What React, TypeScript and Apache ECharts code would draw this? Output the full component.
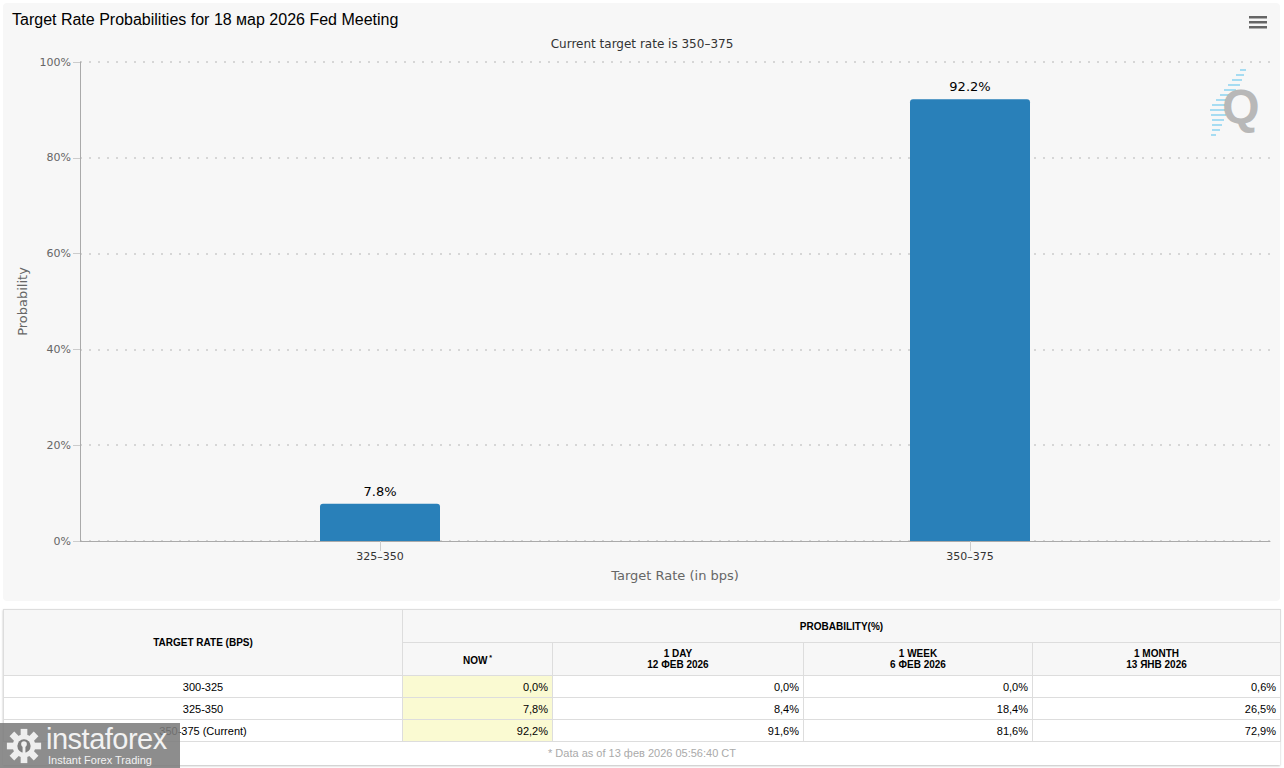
import React, { useEffect, useRef } from 'react';
import * as echarts from 'echarts';

const chartTitle = 'Target Rate Probabilities for 18 мар 2026 Fed Meeting';
const chartSubtitle = 'Current target rate is 350–375';
const categories = ['325–350', '350–375'];
const probabilities = [7.8, 92.2];
const yMin = 0;
const yMax = 100;
const yInterval = 20;

const tableRates = ['300-325', '325-350', '350-375 (Current)'];
const nowValues = ['0,0%', '7,8%', '92,2%'];
const dayValues = ['0,0%', '8,4%', '91,6%'];
const weekValues = ['0,0%', '18,4%', '81,6%'];
const monthValues = ['0,6%', '26,5%', '72,9%'];
const columnHeaders = [
  ['1 DAY', '12 ФЕВ 2026'],
  ['1 WEEK', '6 ФЕВ 2026'],
  ['1 MONTH', '13 ЯНВ 2026'],
];
const footnote = '* Data as of 13 фев 2026 05:56:40 CT';

const streaks: [number, number, number][] = [
  [70, 1240, 1246], [75, 1236, 1244], [80, 1232, 1242], [85, 1228, 1240],
  [90, 1224, 1236], [95, 1220, 1232], [100, 1216, 1230], [105, 1212, 1228],
  [110, 1210, 1226], [115, 1211, 1226], [120, 1212, 1224], [125, 1212, 1222],
  [130, 1212, 1220], [135, 1211, 1216],
];

const font = '"DejaVu Sans", Verdana';

function Chart() {
  const ref = useRef<HTMLDivElement>(null);
  useEffect(() => {
    if (!ref.current) return;
    const chart = echarts.init(ref.current, undefined, { renderer: 'svg' });
    const graphics: any[] = streaks.map(([y, x1, x2]) => ({
      type: 'line',
      shape: { x1, y1: y, x2, y2: y },
      style: { stroke: '#a6dcf2', lineWidth: 2 },
      z: 1,
    }));
    graphics.push({
      type: 'text',
      x: 1241,
      y: 106,
      style: {
        text: 'Q',
        font: 'bold 48px "Liberation Sans", Arial',
        fill: '#b8b8b8',
        align: 'center',
        verticalAlign: 'middle',
      },
      z: 2,
    });
    [17, 22, 27].forEach((y) => {
      graphics.push({
        type: 'rect',
        shape: { x: 1249, y: y - 1, width: 18, height: 2.5 },
        style: { fill: '#666666' },
      });
    });
    chart.setOption({
      animation: false,
      backgroundColor: 'transparent',
      title: [
        {
          text: chartTitle,
          left: 7,
          top: 6,
          textStyle: { fontFamily: '"Liberation Sans", Arial', fontSize: 16, fontWeight: 'normal', color: '#000' },
        },
        {
          text: chartSubtitle,
          left: 'center',
          top: 33,
          textStyle: { fontFamily: font, fontSize: 12, fontWeight: 'normal', color: '#333' },
        },
      ],
      grid: [
        { left: 80, right: 14, top: 62, bottom: 64 },
        { left: 85, right: 19, top: 62, bottom: 64 },
      ],
      xAxis: [
        {
          type: 'category',
          gridIndex: 0,
          data: categories,
          axisLine: { lineStyle: { color: '#aaaaaa' } },
          axisTick: { show: false },
          axisLabel: { show: false },
          name: 'Target Rate (in bps)',
          nameLocation: 'middle',
          nameGap: 28,
          nameTextStyle: { color: '#666', fontSize: 13, fontFamily: font },
        },
        {
          type: 'category',
          gridIndex: 1,
          data: categories,
          axisLine: { show: false },
          axisTick: { show: true, alignWithLabel: true, length: 10, lineStyle: { color: '#cccccc' } },
          axisLabel: { color: '#333', fontSize: 11, fontFamily: font, margin: 10 },
        },
      ],
      yAxis: [
        {
          type: 'value',
          gridIndex: 0,
          min: yMin,
          max: yMax,
          interval: yInterval,
          axisLine: { show: true, lineStyle: { color: '#aaaaaa' } },
          axisTick: { show: true, length: 7, lineStyle: { color: '#cccccc' } },
          axisLabel: { formatter: '{value}%', color: '#666', fontSize: 11, fontFamily: font, margin: 9 },
          splitLine: { lineStyle: { type: [2, 7], color: '#cccccc', width: 1.5 } },
          name: 'Probability',
          nameLocation: 'middle',
          nameGap: 49,
          nameTextStyle: { color: '#666', fontSize: 13, fontFamily: font },
        },
        {
          type: 'value',
          gridIndex: 1,
          min: yMin,
          max: yMax,
          interval: yInterval,
          show: false,
          splitLine: { show: false },
        },
      ],
      series: [
        {
          type: 'bar',
          xAxisIndex: 1,
          yAxisIndex: 1,
          data: probabilities,
          barWidth: 120,
          itemStyle: { color: '#2980b9', borderRadius: [3, 3, 0, 0] },
          label: {
            show: true,
            position: 'top',
            distance: 6,
            formatter: '{c}%',
            color: '#000',
            fontSize: 13,
            fontFamily: font,
          },
        },
      ],
      graphic: graphics,
    });
    return () => chart.dispose();
  }, []);
  return <div ref={ref} style={{ position: 'absolute', left: 0, top: 0, width: 1284, height: 605 }} />;
}

const border = '1px solid #dddddd';
const cellFont = '"Liberation Sans", Arial, sans-serif';

function ProbTable() {
  const th: React.CSSProperties = {
    border,
    background: '#f7f7f7',
    fontWeight: 'bold',
    fontSize: 10,
    textAlign: 'center',
    padding: 0,
    lineHeight: '11px',
  };
  const td: React.CSSProperties = {
    border,
    fontSize: 11,
    padding: '0 4px',
    height: 21,
    textAlign: 'right',
  };
  const rows = tableRates.map((r, i) => [r, nowValues[i], dayValues[i], weekValues[i], monthValues[i]]);
  return (
    <div
      style={{
        position: 'absolute',
        left: 3,
        top: 609,
        width: 1277,
        height: 156,
        background: '#fff',
        boxShadow: '0 1px 2px rgba(0,0,0,0.25)',
        fontFamily: cellFont,
        color: '#000',
      }}
    >
      <table style={{ borderCollapse: 'collapse', width: 1277, tableLayout: 'fixed', fontFamily: cellFont }}>
        <colgroup>
          <col style={{ width: 399 }} />
          <col style={{ width: 150 }} />
          <col style={{ width: 251 }} />
          <col style={{ width: 229 }} />
          <col style={{ width: 248 }} />
        </colgroup>
        <tbody>
          <tr style={{ height: 33 }}>
            <th rowSpan={2} style={th}>TARGET RATE (BPS)</th>
            <th colSpan={4} style={th}>PROBABILITY(%)</th>
          </tr>
          <tr style={{ height: 33 }}>
            <th style={th}>
              NOW<sup style={{ fontSize: 7, marginLeft: 2 }}>*</sup>
            </th>
            {columnHeaders.map((h, i) => (
              <th key={i} style={th}>
                {h[0]}
                <br />
                {h[1]}
              </th>
            ))}
          </tr>
          {rows.map((r, i) => (
            <tr key={i} style={{ height: 22 }}>
              <td style={{ ...td, textAlign: 'center' }}>{r[0]}</td>
              <td style={{ ...td, background: '#fafad2' }}>{r[1]}</td>
              <td style={td}>{r[2]}</td>
              <td style={td}>{r[3]}</td>
              <td style={td}>{r[4]}</td>
            </tr>
          ))}
          <tr style={{ height: 22 }}>
            <td colSpan={5} style={{ fontSize: 11, color: '#aaaaaa', textAlign: 'center', padding: 0 }}>
              {footnote}
            </td>
          </tr>
        </tbody>
      </table>
    </div>
  );
}

function Watermark() {
  const teeth = [0, 45, 90, 135, 180, 225, 270, 315];
  return (
    <div
      style={{
        position: 'absolute',
        left: 0,
        top: 723,
        width: 180,
        height: 45,
        background: 'rgba(125,125,125,0.88)',
        fontFamily: '"Liberation Sans", sans-serif',
        color: '#f2f2f2',
      }}
    >
      <svg width="38" height="38" style={{ position: 'absolute', left: 5, top: 4 }} viewBox="-20 -20 40 40">
        {teeth.map((a) => (
          <rect key={a} x={-3.5} y={-18} width={7} height={8} fill="#eeeeee" transform={`rotate(${a})`} />
        ))}
        <circle r={12} fill="#eeeeee" />
        <circle r={7} fill="#7d7d7d" />
        <circle cx={0} cy={-2} r={3} fill="#eeeeee" />
        <rect x={-1.5} y={0} width={3} height={9} fill="#eeeeee" />
      </svg>
      <div style={{ position: 'absolute', left: 46, top: 3, fontSize: 29, lineHeight: '26px', letterSpacing: -0.5, whiteSpace: 'nowrap' }}>
        instaforex
      </div>
      <div style={{ position: 'absolute', left: 48, top: 31, fontSize: 11, lineHeight: '12px', whiteSpace: 'nowrap' }}>
        Instant Forex Trading
      </div>
    </div>
  );
}

export default function App() {
  return (
    <div style={{ position: 'absolute', left: 0, top: 0, width: 1284, height: 768, background: '#fff', overflow: 'hidden' }}>
      <div style={{ position: 'absolute', left: 3, top: 3, width: 1277, height: 598, background: '#f7f7f7', borderRadius: 4 }} />
      <Chart />
      <ProbTable />
      <Watermark />
    </div>
  );
}
